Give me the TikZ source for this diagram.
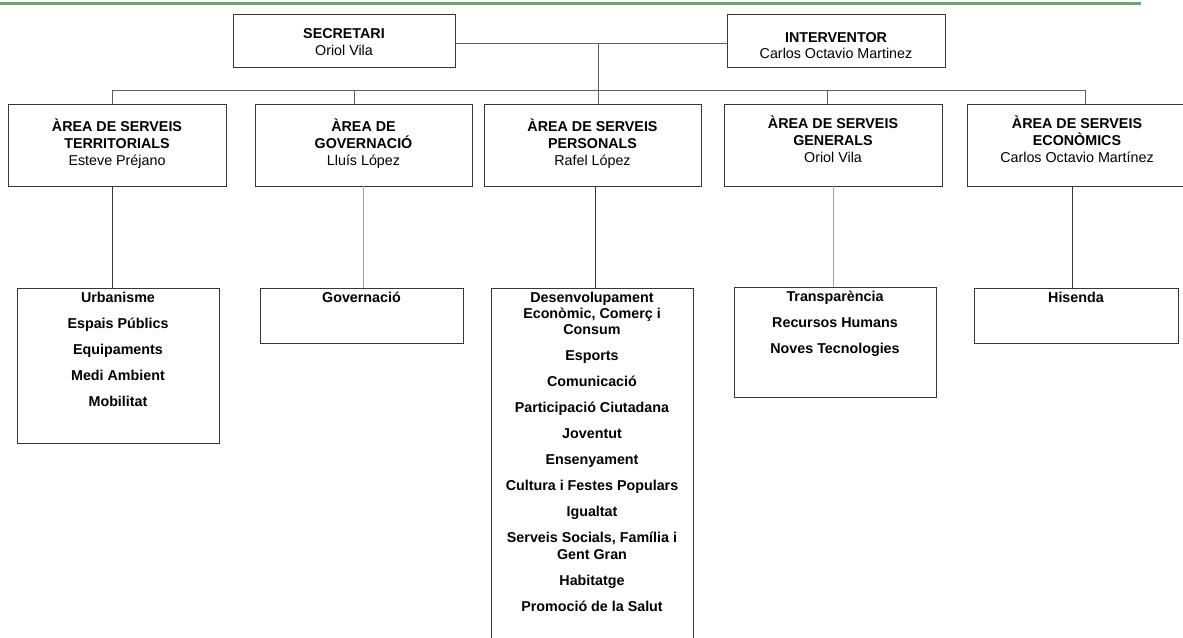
\documentclass[tikz,border=0pt]{standalone}
\usepackage{fontspec}
\setmainfont{Liberation Sans}
\usepackage{tikz}
\usetikzlibrary{positioning,calc}
\definecolor{framegray}{RGB}{55,55,55}
\definecolor{linegray}{RGB}{95,95,95}
\definecolor{lightline}{RGB}{165,165,165}
\definecolor{bargreen}{RGB}{104,166,112}
\tikzstyle{unit} = [draw=framegray, line width=0.9pt, rectangle, inner sep=0pt, minimum height=82pt, minimum width=218pt]
\tikzstyle{listbox} = [draw=framegray, line width=0.9pt, rectangle, inner sep=0pt, minimum width=202pt]
\tikzstyle{head} = [align=center, inner sep=0pt, anchor=north, font=\fontsize{14.3}{16.7}\selectfont]
\tikzstyle{items} = [align=center, inner sep=0pt, anchor=north, font=\fontsize{14.3}{16.3}\selectfont\bfseries]
\tikzstyle{bus} = [draw=linegray, line width=0.9pt]
\newcommand{\itemgap}{\\[9.7pt]}
\newcommand{\topstrut}{\rule{0pt}{14pt}}

\begin{document}
\begin{tikzpicture}[x=1pt, y=-1pt]
  \useasboundingbox (0,0) rectangle (1183,637);
  \clip (0,0) rectangle (1183,637);
  \draw [bargreen, line width=3.5pt] (0,3.3) -- (1141,3.3);

  % top
  \node [unit, minimum height=53pt, minimum width=222pt] (sec) at (344,40.5) {};
  \node [unit, minimum height=53pt] (int) at (836,40.5) {};
  \node [head] (sectxt) at ([yshift=-11pt]sec.north) {\topstrut\textbf{SECRETARI}\\Oriol Vila};
  \node [head] (inttxt) at ([yshift=-14.5pt]int.north) {\topstrut\textbf{INTERVENTOR}\\Carlos Octavio Martinez};

  % areas
  \node [unit] (ter) at (117,145) {};
  \node [unit, minimum width=217pt] (gov) at (363.5,145) {};
  \node [unit, minimum width=217pt] (per) at (592.5,145) {};
  \node [unit] (gen) at (833,145) {};
  \node [unit, minimum width=220pt] (eco) at (1077,145) {};
  \node [head] (tertxt) at ([yshift=-14pt]ter.north) {\topstrut\textbf{ÀREA DE SERVEIS}\\\textbf{TERRITORIALS}\\Esteve Préjano};
  \node [head] (govtxt) at ([yshift=-14pt]gov.north) {\topstrut\textbf{ÀREA DE}\\\textbf{GOVERNACIÓ}\\Lluís López};
  \node [head] (pertxt) at ([yshift=-14pt]per.north) {\topstrut\textbf{ÀREA DE SERVEIS}\\\textbf{PERSONALS}\\Rafel López};
  \node [head] (gentxt) at ([yshift=-11pt]gen.north) {\topstrut\textbf{ÀREA DE SERVEIS}\\\textbf{GENERALS}\\Oriol Vila};
  \node [head] (ecotxt) at ([yshift=-11pt]eco.north) {\topstrut\textbf{ÀREA DE SERVEIS}\\\textbf{ECONÒMICS}\\Carlos Octavio Martínez};

  % departments
  \node [listbox, minimum height=155pt] (urb) at (118,365.5) {};
  \node [listbox, minimum height=55pt, minimum width=203pt] (govl) at (361.5,315.5) {};
  \node [listbox, minimum height=380pt] (perl) at (592,478) {};
  \node [listbox, minimum height=110pt] (genl) at (835,342) {};
  \node [listbox, minimum height=55pt, minimum width=204pt] (his) at (1076,315.5) {};
  \node [items] (urbtxt) at ([yshift=-0.5pt]urb.north) {\topstrut Urbanisme\itemgap Espais Públics\itemgap Equipaments\itemgap Medi Ambient\itemgap Mobilitat};
  \node [items] (govltxt) at ([yshift=-0.5pt]govl.north) {\topstrut Governació};
  \node [items] (perltxt) at ([yshift=-0.5pt]perl.north) {\topstrut Desenvolupament\\Econòmic, Comerç i\\Consum\itemgap Esports\itemgap Comunicació\itemgap Participació Ciutadana\itemgap Joventut\itemgap Ensenyament\itemgap Cultura i Festes Populars\itemgap Igualtat\itemgap Serveis Socials, Família i\\Gent Gran\itemgap Habitatge\itemgap Promoció de la Salut};
  \node [items] (genltxt) at ([yshift=-0.5pt]genl.north) {\topstrut Transparència\itemgap Recursos Humans\itemgap Noves Tecnologies};
  \node [items] (histxt) at ([yshift=-0.5pt]his.north) {\topstrut Hisenda};

  % connectors
  \coordinate (tap) at (598,43);
  \coordinate (busL) at (112,90);
  \coordinate (busR) at (1085,90);
  \coordinate (govtap) at (354,90);
  \coordinate (gentap) at (827,90);
  \draw [bus] (sec.east |- tap) -- (int.west |- tap);
  \draw [bus] (tap) -- (tap |- per.north);
  \draw [bus] (busL |- ter.north) -- (busL) -- (busR) -- (busR |- eco.north);
  \draw [bus] (govtap) -- (govtap |- gov.north);
  \draw [bus] (gentap) -- (gentap |- gen.north);
  \coordinate (perdrop) at ([xshift=2.5pt]per.south);
  \coordinate (ecodrop) at ([xshift=-5pt]eco.south);
  \draw [draw=framegray, line width=0.9pt] (busL |- ter.south) -- (busL |- urb.north);
  \draw [draw=lightline, line width=0.9pt] (gov.south) -- (gov.south |- govl.north);
  \draw [draw=framegray, line width=0.9pt] (perdrop) -- (perdrop |- perl.north);
  \draw [draw=lightline, line width=0.9pt] (gen.south) -- (gen.south |- genl.north);
  \draw [draw=framegray, line width=0.9pt] (ecodrop) -- (ecodrop |- his.north);
\end{tikzpicture}
\end{document}
